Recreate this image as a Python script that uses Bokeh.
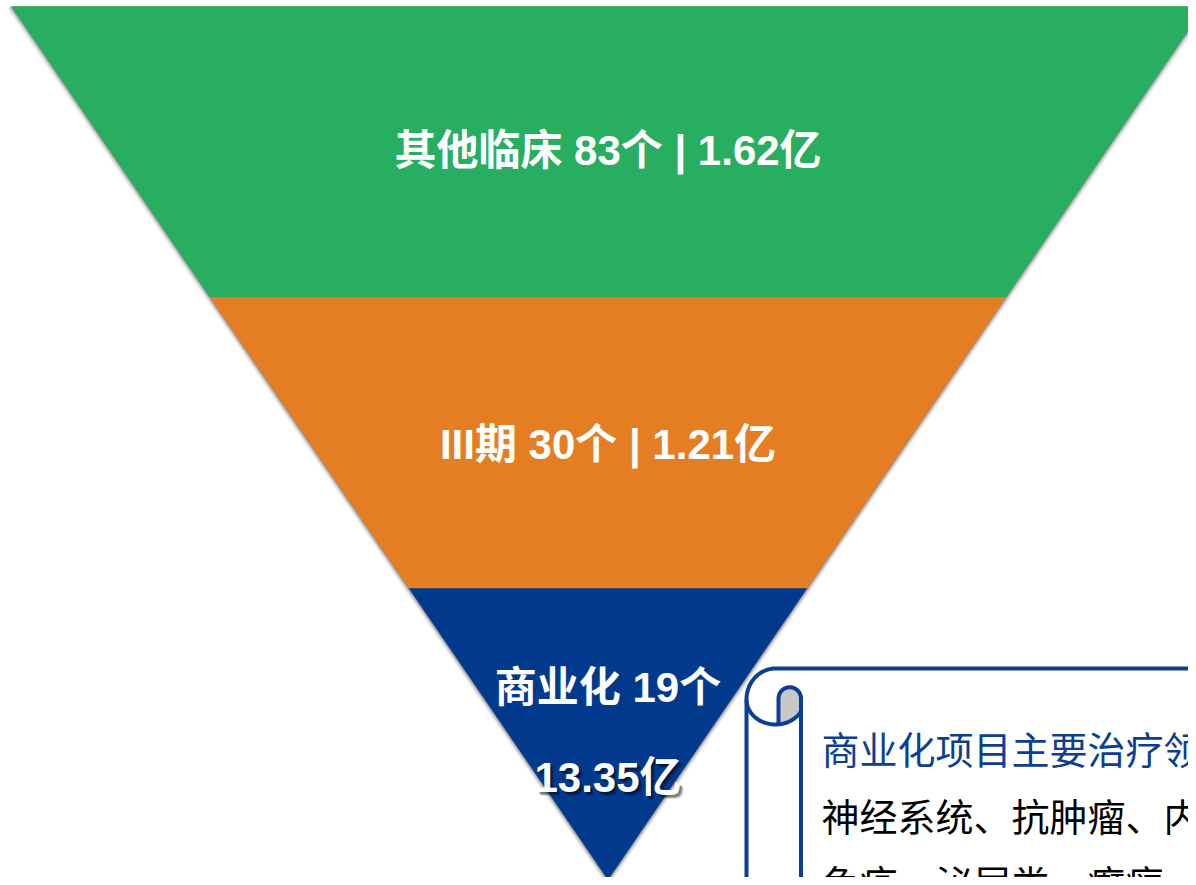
import numpy as np
from bokeh.plotting import figure
from bokeh.models import Range1d
from bokeh.core.properties import value
from bokeh.embed import file_html
from bokeh.resources import INLINE

# ---- data ----
stages = ["其他临床", "III期", "商业化"]
counts = [83, 30, 19]
amounts = [1.62, 1.21, 13.35]
colors = ["#28AE60", "#E57E22", "#013A8C"]
note_title = "商业化项目主要治疗领域："
note_lines = ["神经系统、抗肿瘤、内分泌、", "免疫、泌尿类、癫痫"]

W, H = 1188, 877
p = figure(width=W, height=H, output_backend="svg", toolbar_location=None,
           x_range=Range1d(8, 1196), y_range=Range1d(885, 8),
           x_axis_location=None, y_axis_location=None, min_border=0,
           background_fill_color="white", border_fill_color="white")
p.outline_line_color = None
p.grid.visible = False

top_y, band_h, cx, half_top = 14.0, 291.0, 615.5, 596.5
n = len(stages)
apex_y = top_y + n * band_h

def half(y):
    return half_top * (apex_y - y) / (apex_y - top_y)

# soft shadow
for off, a in [(5, 0.06), (3.5, 0.10), (2.2, 0.14), (1.2, 0.18)]:
    p.patch([cx - half(top_y) - off, cx + half(top_y) + off, cx],
            [top_y - 1 + off * 0.5, top_y - 1 + off * 0.5, apex_y + off * 1.6],
            fill_color="black", fill_alpha=a, line_color=None)

xs, ys = [], []
for i in range(n):
    y0 = top_y + i * band_h
    y1 = y0 + band_h
    xs.append([cx - half(y0), cx + half(y0), cx + half(y1), cx - half(y1)])
    ys.append([y0, y0, y1, y1])
p.patches(xs, ys, fill_color=colors, line_color=colors, line_width=0.5)

font = value("Liberation Sans, Noto Sans CJK SC")
FS = "42px"
labels, lx, ly = [], [], []
for i in range(n):
    yc = top_y + (i + 0.5) * band_h
    if i < n - 1:
        labels.append(f"{stages[i]} {counts[i]}个 | {amounts[i]:.2f}亿")
        lx.append(cx); ly.append(yc + (-2 if i == 0 else 1.5))
    else:
        labels.append(f"{stages[i]} {counts[i]}个")
        lx.append(cx); ly.append(yc - 47)
        amt = f"{amounts[i]:.2f}亿"
        for off, a in [(4, 0.15), (3, 0.22), (2, 0.30)]:
            p.text([cx + off], [yc + 43 + off], text=[amt],
                   text_color="black", text_alpha=a, text_font=font,
                   text_font_size=FS, text_font_style="bold",
                   text_align="center", text_baseline="middle")
        p.text([cx], [yc + 43], text=[amt], text_color="white",
               text_font=font, text_font_size=FS, text_font_style="bold",
               text_align="center", text_baseline="middle")
p.text(lx, ly, text=labels, text_color="white", text_font=font,
       text_font_size=FS, text_font_style="bold",
       text_align="center", text_baseline="middle")

# ---- scroll note box ----
blue = "#0B3F93"
lw = 4
L, T, R = 754.0, 676.0, 1240.0
cxc, cyc = 783.0, 707.0
rx, ry_t, ry_b = 29.0, 31.0, 25.0
ix0, ix1, itop = 786.0, 808.5, 706.0

# outer: left line + rounded corner + top line
t = np.linspace(np.pi, 1.5 * np.pi, 40)
ox = np.concatenate([[L], cxc + rx * np.cos(t), [R]])
oy = np.concatenate([[900], cyc + ry_t * np.sin(t), [T]])
p.line(ox, oy, line_color=blue, line_width=lw)

def bottom_y(x):
    return cyc + ry_b * np.sqrt(np.clip(1 - ((x - cxc) / rx) ** 2, 0, 1))

# gray fill inside the roll
ir = (ix1 - ix0) / 2
t3 = np.linspace(np.pi, 2 * np.pi, 40)
tx = (ix0 + ix1) / 2 + ir * np.cos(t3)
ty = itop + ir * np.sin(t3)
bxs = np.linspace(ix1, ix0, 20)
fill_x = np.concatenate([[ix0], tx, bxs])
fill_y = np.concatenate([[bottom_y(ix0)], ty, bottom_y(bxs)])
p.patch(fill_x, fill_y, fill_color="#C8C8C8", line_color=None)

# bottom arc of the roll
t_end = np.arccos((ix1 - cxc) / rx)
t2 = np.linspace(np.pi, t_end, 50)
p.line(cxc + rx * np.cos(t2), cyc + ry_b * np.sin(t2), line_color=blue, line_width=lw)
# inner tongue + right line of the roll
p.line(np.concatenate([[ix0], tx, [ix1]]),
       np.concatenate([[bottom_y(ix0)], ty, [900]]),
       line_color=blue, line_width=lw)

cj = value("Noto Sans CJK SC")
p.text([829], [755], text=[note_title], text_color=blue,
       text_font=cj, text_font_size="38px",
       text_align="left", text_baseline="middle")
p.text([829, 829], [822, 889], text=note_lines, text_color="black",
       text_font=cj, text_font_size="38px",
       text_align="left", text_baseline="middle")

open("out.html", "w").write(file_html(p, INLINE))
